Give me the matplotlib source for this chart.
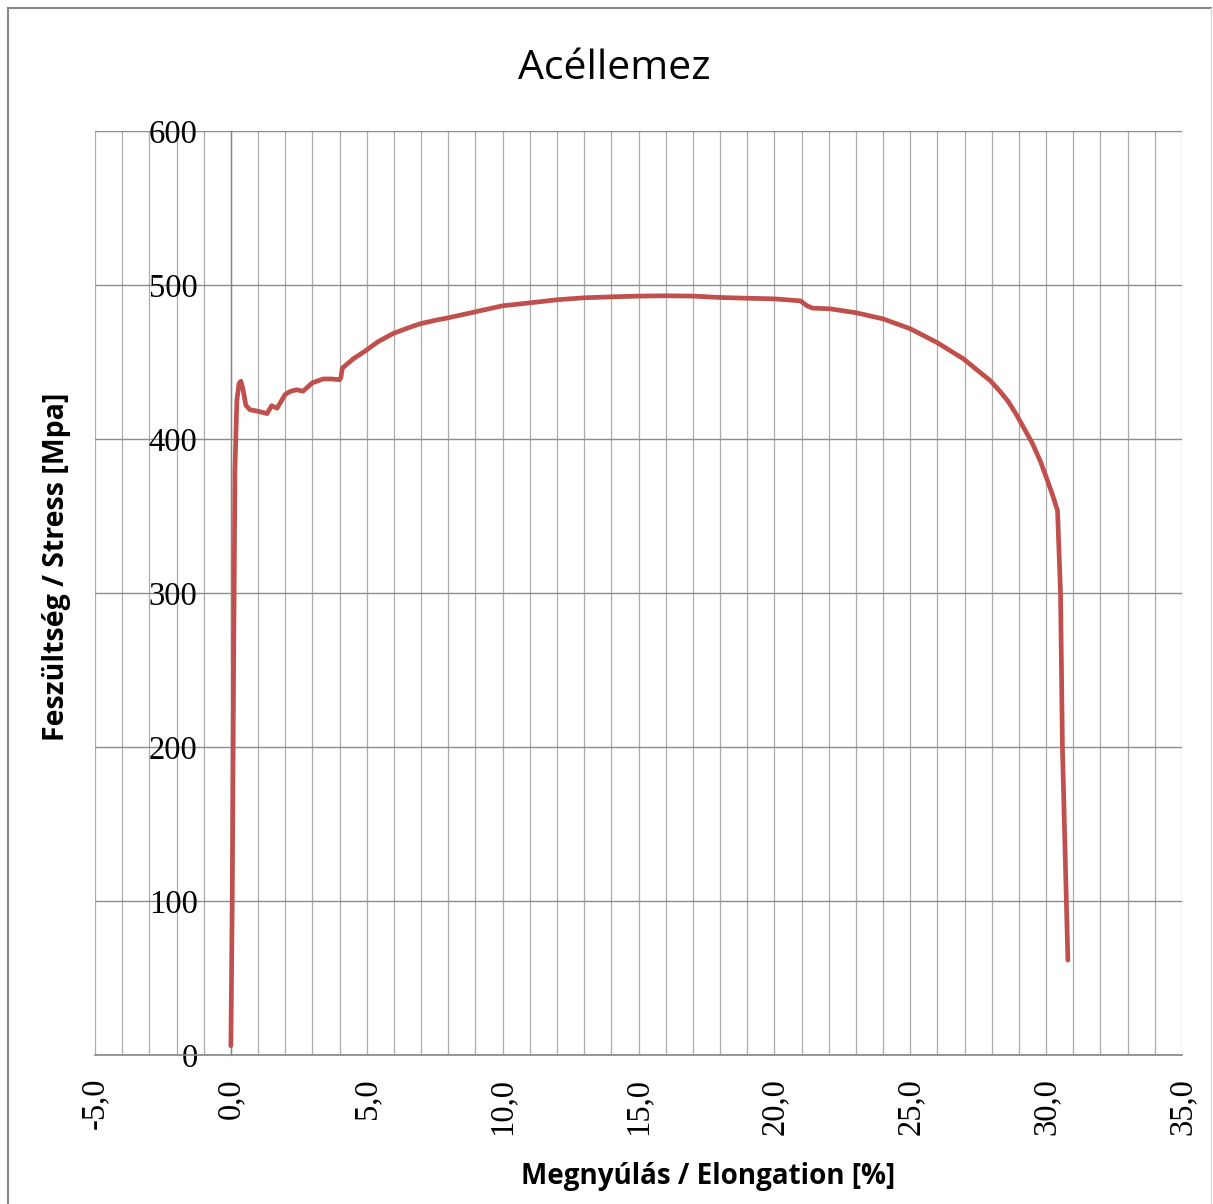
import matplotlib
matplotlib.use("Agg")
import matplotlib.pyplot as plt
from matplotlib.ticker import FuncFormatter, MultipleLocator
from matplotlib.lines import Line2D

# ---- data ----
elongation = [0.0, 0.05, 0.10, 0.15, 0.22, 0.30, 0.37, 0.45, 0.55, 0.70, 1.00,
              1.33, 1.50, 1.70, 2.00, 2.20, 2.43, 2.65, 3.00, 3.40, 3.70, 4.00,
              4.05, 4.10, 4.50, 4.93, 5.40, 5.97, 6.50, 6.96, 7.50, 8.00, 9.00,
              10.0, 11.0, 12.0, 13.0, 14.0, 15.0, 16.0, 17.0, 18.0, 19.0, 20.0,
              20.96, 21.2, 21.4, 22.06, 23.0, 24.0, 25.0, 26.0, 26.96, 27.95,
              28.3, 28.6, 28.9, 29.17, 29.5, 29.8, 30.05, 30.25, 30.42, 30.53,
              30.6, 30.8]
stress = [6, 100, 250, 380, 425, 436, 437.5, 432, 422, 419, 418,
          416.5, 421.6, 420, 429, 431, 432, 431, 436.5, 439, 439, 438.5,
          440, 446, 452, 457, 463, 468.5, 472, 474.8, 477, 478.7, 482.6,
          486.5, 488.4, 490.4, 491.7, 492.3, 492.8, 493, 492.8, 491.9, 491.4, 491,
          489.7, 486.5, 485, 484.5, 482, 478, 471.6, 462.5, 452, 437.8,
          431, 424.5, 416, 407.5, 397, 385, 373, 363, 353.5, 300,
          200, 61.6]

title = "Acéllemez"
xlabel = "Megnyúlás / Elongation [%]"
ylabel = "Feszültség / Stress [Mpa]"
x_ticks = [-5, 0, 5, 10, 15, 20, 25, 30, 35]
y_ticks = [0, 100, 200, 300, 400, 500, 600]

W, H = 1213, 1204
fig = plt.figure(figsize=(W / 100, H / 100), dpi=100)
fig.patch.set_facecolor("white")

L, R, B, T = 95, 1182, 1055, 131
ax = fig.add_axes([L / W, 1 - B / H, (R - L) / W, (B - T) / H])
ax.set_xlim(-5, 35)
ax.set_ylim(0, 600)

ax.xaxis.set_minor_locator(MultipleLocator(1))
ax.set_xticks(x_ticks)
ax.set_yticks(y_ticks)
ax.grid(which="minor", axis="x", color="#ABABAB", linewidth=0.9)
ax.grid(which="major", axis="x", color="#ABABAB", linewidth=0.9)
ax.grid(which="major", axis="y", color="#8C8C8C", linewidth=1.0)
ax.set_axisbelow(True)

for s in ("top", "right"):
    ax.spines[s].set_visible(False)
ax.spines["left"].set_position(("data", 0))
ax.spines["left"].set_color("#868686")
ax.spines["left"].set_linewidth(1.0)
ax.spines["bottom"].set_color("#868686")
ax.spines["bottom"].set_linewidth(1.2)

ax.xaxis.set_major_formatter(FuncFormatter(lambda v, p: f"{v:.1f}".replace(".", ",")))
ax.yaxis.set_major_formatter(FuncFormatter(lambda v, p: f"{int(round(v))}"))
ax.tick_params(axis="both", which="both", length=0)
ax.tick_params(axis="x", pad=16.5, labelrotation=90)
ax.tick_params(axis="y", pad=24)
for lab in ax.get_xticklabels() + ax.get_yticklabels():
    lab.set_fontfamily("Liberation Serif")
    lab.set_fontsize(23.5)

ax.plot(elongation, stress, color="#C0504D", linewidth=3.4,
        solid_capstyle="round", solid_joinstyle="round", zorder=3)

fig.text(614 / W, 1 - 79 / H, title, ha="center", va="baseline",
         fontsize=29.5, family="Open Sans")
fig.text(708 / W, 1 - 1184 / H, xlabel, ha="center", va="baseline",
         fontsize=20, family="Open Sans", fontweight="bold")
fig.text(57 / W, 1 - 567 / H, ylabel, ha="center", va="center", rotation=90,
         fontsize=20.5, family="Open Sans", fontweight="bold")

# outer chart border
fig.add_artist(Line2D([8 / W, 8 / W], [0, 1 - 8 / H], transform=fig.transFigure,
                      color="#868686", linewidth=1.5))
fig.add_artist(Line2D([8 / W, 1211 / W], [1 - 8 / H, 1 - 8 / H], transform=fig.transFigure,
                      color="#868686", linewidth=1.5))
fig.add_artist(Line2D([1211 / W, 1211 / W], [0, 1 - 8 / H], transform=fig.transFigure,
                      color="#D9D9D9", linewidth=1.0))

fig.savefig("out.png", dpi=100, facecolor="white")
